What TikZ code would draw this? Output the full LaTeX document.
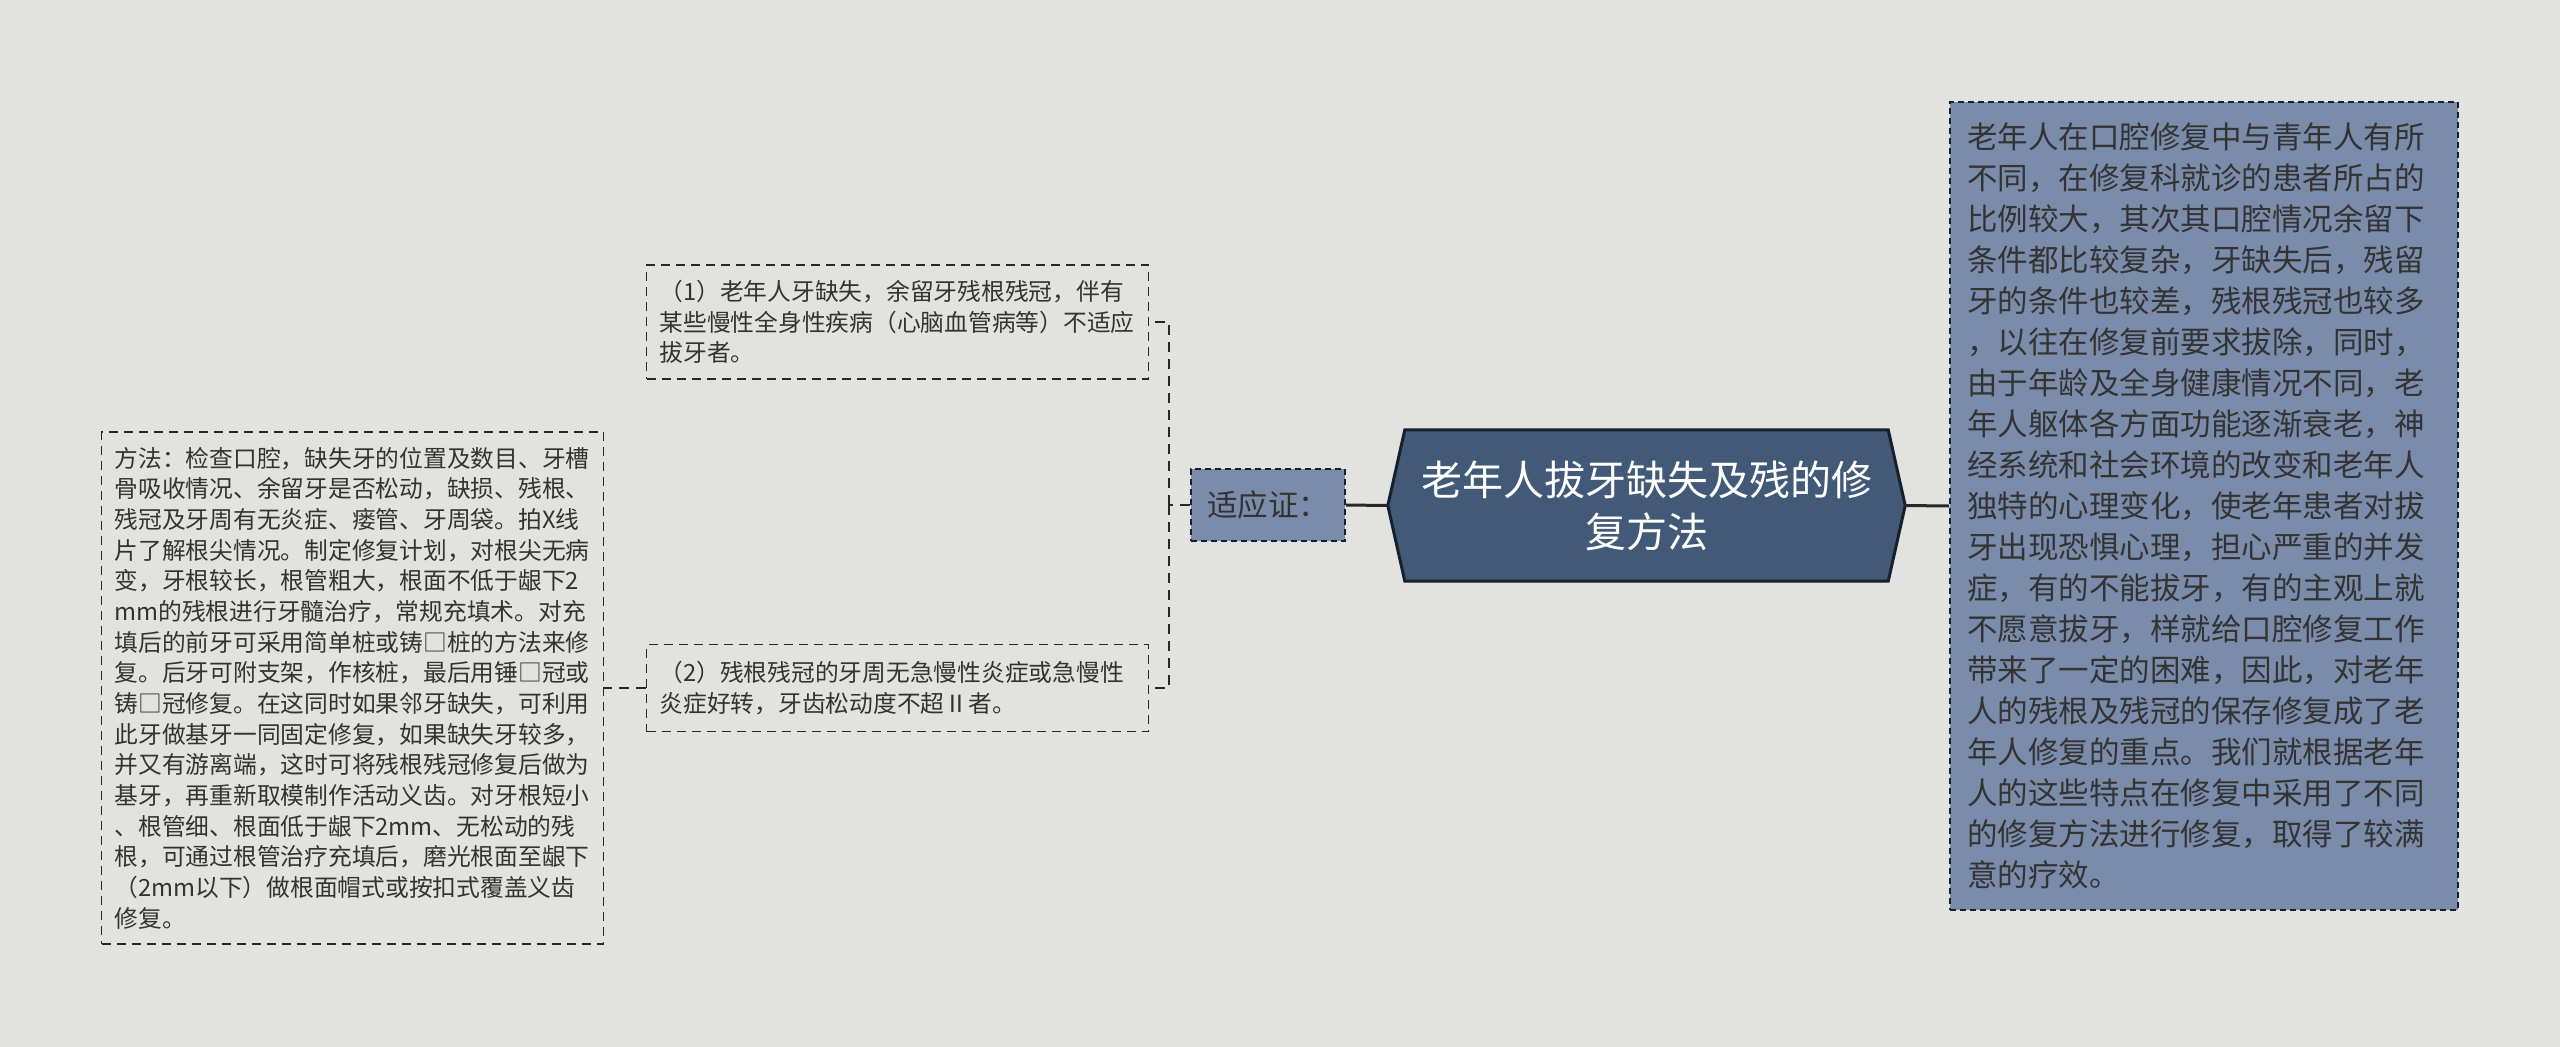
\documentclass[tikz,border=0pt]{standalone}
\usepackage{fontspec}
\setmainfont{Noto Sans CJK SC}
\usetikzlibrary{positioning,backgrounds}

\definecolor{bgcol}{RGB}{226,227,222}
\definecolor{titlefill}{RGB}{66,90,120}
\definecolor{titledraw}{RGB}{22,32,46}
\definecolor{notefill}{RGB}{122,140,170}
\definecolor{inkcol}{RGB}{51,51,51}
\definecolor{edgecol}{RGB}{40,40,40}

\tikzset{
  leaf/.style={draw=edgecol,dash pattern=on 9pt off 6pt,line width=1.7pt,text=inkcol,
    align=left,inner xsep=13pt,inner ysep=0pt,text width=476pt,
    font=\fontsize{23.75}{30.67}\selectfont},
  note/.style={draw=titledraw,fill=notefill,dash pattern=on 6pt off 4pt,line width=1.7pt,
    text=inkcol,align=left,inner xsep=17pt,inner ysep=0pt,
    font=\fontsize{30.5}{41}\selectfont},
  topic/.style={text=white,align=center,text width=470pt,minimum width=517pt,
    minimum height=151pt,inner sep=0pt,font=\fontsize{41}{52}\selectfont},
  bough/.style={draw=edgecol,line width=3pt},
  twig/.style={draw=edgecol,line width=1.7pt,dash pattern=on 10pt off 7pt}
}

\begin{document}
\begin{tikzpicture}[x=1pt,y=-1pt]

      \begin{scope}[on background layer]
        \fill[bgcol] (0,0) rectangle (2560,1047);
      \end{scope}
      \useasboundingbox (0,0) rectangle (2560,1047);

      \path (1646.5,505.5) node[topic] (title) {老年人拔牙缺失及残的修\\复方法};
      \begin{scope}[on background layer]
        \draw[titledraw,fill=titlefill,line width=3pt]
          (title.west) -- ([xshift=17pt]title.north west) -- ([xshift=-17pt]title.north east)
          -- (title.east) -- ([xshift=-17pt]title.south east) -- ([xshift=17pt]title.south west) -- cycle;
      \end{scope}

      \path (1268,505) node[note,text width=122pt,inner xsep=16pt,minimum height=72pt] (sign) {适应证：};

      \path (897.5,322) node[leaf,minimum height=114pt] (case1)
        {（1）老年人牙缺失，余留牙残根残冠，伴有\\某些慢性全身性疾病（心脑血管病等）不适应\\拔牙者。};
      \path (897.5,688) node[leaf,minimum height=87pt] (case2)
        {（2）残根残冠的牙周无急慢性炎症或急慢性\\炎症好转，牙齿松动度不超Ⅱ者。};

      \path (352.5,688) node[leaf,minimum height=512pt] (method)
        {方法：检查口腔，缺失牙的位置及数目、牙槽\\骨吸收情况、余留牙是否松动，缺损、残根、\\残冠及牙周有无炎症、瘘管、牙周袋。拍X线\\片了解根尖情况。制定修复计划，对根尖无病\\变，牙根较长，根管粗大，根面不低于龈下2\\mm的残根进行牙髓治疗，常规充填术。对充\\填后的前牙可采用简单桩或铸□桩的方法来修\\复。后牙可附支架，作核桩，最后用锤□冠或\\铸□冠修复。在这同时如果邻牙缺失，可利用\\此牙做基牙一同固定修复，如果缺失牙较多，\\并又有游离端，这时可将残根残冠修复后做为\\基牙，再重新取模制作活动义齿。对牙根短小\\、根管细、根面低于龈下2mm、无松动的残\\根，可通过根管治疗充填后，磨光根面至龈下\\（2mm以下）做根面帽式或按扣式覆盖义齿\\修复。};

      \path (2204,506) node[note,text width=474pt,minimum height=808pt] (intro)
        {老年人在口腔修复中与青年人有所\\不同，在修复科就诊的患者所占的\\比例较大，其次其口腔情况余留下\\条件都比较复杂，牙缺失后，残留\\牙的条件也较差，残根残冠也较多\\，以往在修复前要求拔除，同时，\\由于年龄及全身健康情况不同，老\\年人躯体各方面功能逐渐衰老，神\\经系统和社会环境的改变和老年人\\独特的心理变化，使老年患者对拔\\牙出现恐惧心理，担心严重的并发\\症，有的不能拔牙，有的主观上就\\不愿意拔牙，样就给口腔修复工作\\带来了一定的困难，因此，对老年\\人的残根及残冠的保存修复成了老\\年人修复的重点。我们就根据老年\\人的这些特点在修复中采用了不同\\的修复方法进行修复，取得了较满\\意的疗效。};

      \coordinate (fork) at (1169,505);

      \draw[bough] (sign.east)  -- (title.west);
      \draw[bough] (title.east) -- (intro.west);
      \draw[twig]  (sign.west)  -- (fork);
      \draw[twig]  (fork) |- (case1.east);
      \draw[twig]  (fork) |- (case2.east);
      \draw[twig]  (case2.west) -- (method.east);

\end{tikzpicture}
\end{document}
